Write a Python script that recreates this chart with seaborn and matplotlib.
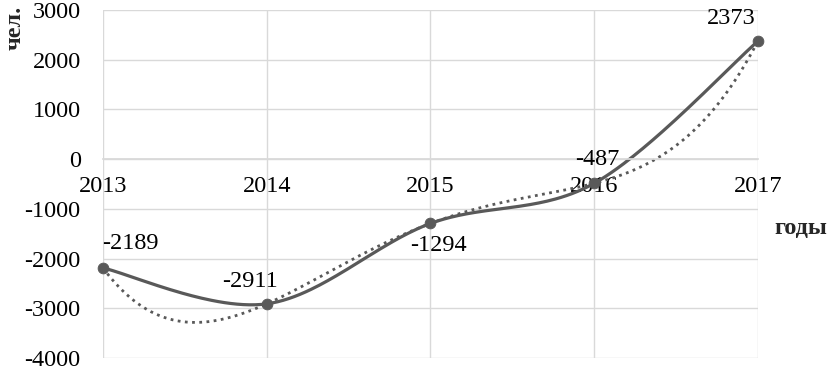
import numpy as np
import pandas as pd
import matplotlib
matplotlib.use("Agg")
import matplotlib.pyplot as plt
import seaborn as sns

years = ["2013", "2014", "2015", "2016", "2017"]
values = [-2189, -2911, -1294, -487, 2373]
yticks = [3000, 2000, 1000, 0, -1000, -2000, -3000, -4000]

sns.set_theme(style="white")
plt.rcParams["font.family"] = ["Liberation Serif", "DejaVu Serif"]

gray = "#595959"
grid = "#d9d9d9"
fs = 17.5

x = np.arange(len(years), dtype=float)
y = np.array(values, dtype=float)

# smoothed line (Excel-like bezier through the points)
def smooth(xs, ys, n=60):
    px = np.concatenate([[xs[0]], xs, [xs[-1]]])
    py = np.concatenate([[ys[0]], ys, [ys[-1]]])
    outx, outy = [], []
    t = np.linspace(0, 1, n)
    for i in range(1, len(px) - 2):
        p0 = np.array([px[i], py[i]])
        p3 = np.array([px[i + 1], py[i + 1]])
        p1 = p0 + (np.array([px[i + 1], py[i + 1]]) - np.array([px[i - 1], py[i - 1]])) / 6
        p2 = p3 - (np.array([px[i + 2], py[i + 2]]) - np.array([px[i], py[i]])) / 6
        b = ((1 - t) ** 3)[:, None] * p0 + (3 * (1 - t) ** 2 * t)[:, None] * p1 \
            + (3 * (1 - t) * t ** 2)[:, None] * p2 + (t ** 3)[:, None] * p3
        outx.extend(b[:, 0]); outy.extend(b[:, 1])
    return np.array(outx), np.array(outy)

sx, sy = smooth(x, y)
# polynomial trendline
coef = np.polyfit(x, y, 4)
tx = np.linspace(0, 4, 300)
ty = np.polyval(coef, tx)

fig = plt.figure(figsize=(8.29, 3.68), dpi=100)
ax = fig.add_axes([0.1242, 0.0272, 0.79, 0.9456])

sns.lineplot(x=tx, y=ty, ax=ax, color=gray, lw=2, linestyle=(0, (1, 1.6)), sort=False)
sns.lineplot(x=sx, y=sy, ax=ax, color=gray, lw=2.3, sort=False)
sns.scatterplot(x=x, y=y, ax=ax, color=gray, s=60, edgecolor=gray, zorder=5, clip_on=False)

for s in ["top", "right", "left"]:
    ax.spines[s].set_visible(False)
ax.spines["bottom"].set_position(("data", 0))
ax.spines["bottom"].set_color(grid)

ax.set_xlim(0, 4)
ax.set_ylim(-4000, 3000)
ax.set_yticks(yticks)
ax.set_yticklabels([str(v) for v in yticks])
ax.set_xticks(x)
ax.set_xticklabels(years)
ax.grid(True, color=grid, lw=1)
ax.set_axisbelow(True)
ax.tick_params(axis="both", length=0, labelsize=fs, labelcolor="black")
ax.tick_params(axis="x", pad=12)
ax.tick_params(axis="y", pad=16)

offsets = [(19.5, 17.3), (-12, 16), (6, -16), (2, 17), (-19.5, 16.5)]
for xi, yi, (dx, dy) in zip(x, y, offsets):
    ax.annotate(f"{int(yi)}", (xi, yi), xytext=(dx, dy), textcoords="offset points",
                ha="center", va="center", fontsize=fs, color="black")

fig.text(0.018, 0.925, "чел.", rotation=90, fontsize=fs, fontweight="bold",
         ha="center", va="center")
fig.text(0.966, 0.38, "годы", fontsize=fs, fontweight="bold", ha="center", va="center")

fig.savefig("out.png", dpi=100)
